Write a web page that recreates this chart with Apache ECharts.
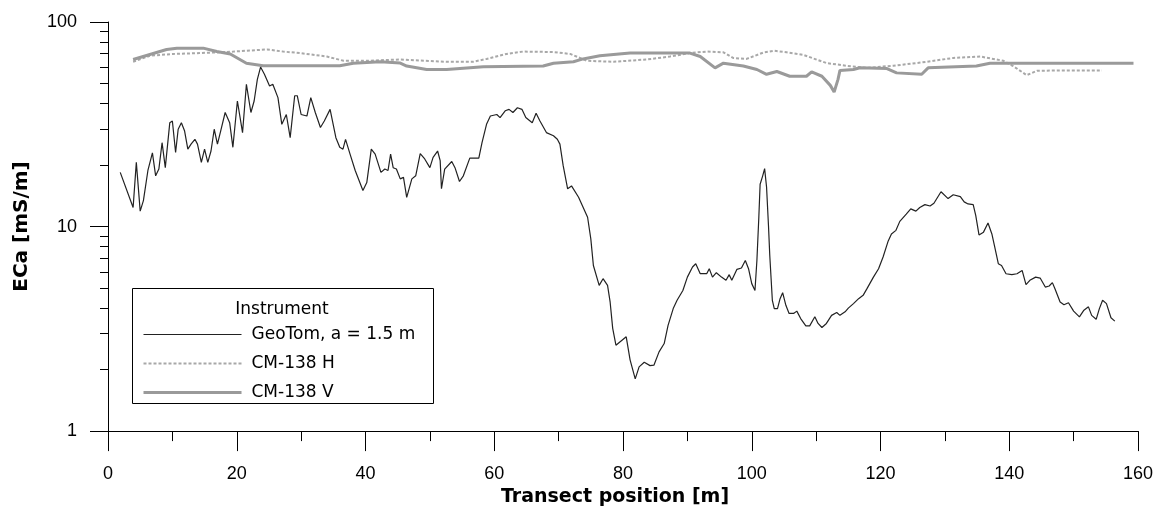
<!DOCTYPE html>
<html>
<head>
<meta charset="utf-8">
<script src="https://cdn.jsdelivr.net/npm/echarts@6/dist/echarts.min.js"></script>
<style>
  html, body { margin: 0; padding: 0; background: #fff; }
  #main { width: 1161px; height: 512px; }
</style>
</head>
<body>
<div id="main"></div>
<script>
// ECa along the transect, [position m, ECa mS/m]
var geoTom = [
  [1.9, 18.4], [3.9, 12.4], [4.4, 20.6], [5.0, 11.9], [5.5, 13.4], [6.2, 18.8], [6.9, 22.9],
  [7.4, 17.7], [7.9, 19.1], [8.4, 25.7], [8.9, 19.4], [9.6, 32.2], [10.0, 32.8], [10.5, 23.0],
  [10.9, 29.9], [11.4, 32.2], [11.9, 29.3], [12.4, 23.9], [12.9, 25.3], [13.5, 26.7], [13.9, 25.3],
  [14.5, 20.6], [15.0, 23.9], [15.5, 20.6], [16.0, 23.4], [16.5, 29.9], [17.0, 25.3], [17.5, 29.3],
  [18.2, 36.1], [18.9, 32.2], [19.4, 24.4], [20.1, 41.1], [20.9, 28.8], [21.5, 49.6], [22.2, 36.1],
  [22.7, 41.1], [23.2, 52.4], [23.7, 60.2], [24.3, 55.5], [25.1, 48.7], [25.6, 49.6], [26.4, 42.7],
  [27.0, 31.6], [27.7, 35.3], [28.3, 27.2], [29.0, 43.6], [29.4, 43.6], [30.0, 35.3], [30.9, 34.7],
  [31.5, 42.7], [32.2, 36.1], [33.0, 30.5], [33.6, 32.8], [34.5, 37.4], [35.4, 27.2], [36.0, 24.4],
  [36.5, 23.9], [36.9, 26.7], [37.6, 22.6], [38.4, 18.8], [39.6, 15.0], [40.2, 16.4], [40.9, 23.9],
  [41.5, 22.6], [42.4, 18.4], [43.0, 19.1], [43.5, 18.8], [43.9, 22.6], [44.3, 19.4], [44.8, 19.1],
  [45.4, 17.1], [45.9, 17.4], [46.4, 13.9], [47.2, 17.1], [47.8, 17.7], [48.5, 22.7], [49.2, 21.4],
  [50.0, 19.4], [50.5, 21.8], [51.2, 23.4], [51.6, 21.0], [51.8, 15.3], [52.3, 19.1], [53.4, 20.8],
  [53.9, 19.4], [54.6, 16.6], [55.2, 17.7], [56.2, 21.6], [57.6, 21.6], [58.1, 25.7], [58.8, 31.6],
  [59.4, 34.7], [60.4, 35.3], [60.9, 34.1], [61.7, 36.8], [62.3, 37.4], [62.9, 36.1], [63.6, 38.1],
  [64.3, 37.4], [64.9, 34.1], [65.9, 32.2], [66.5, 35.8], [67.1, 32.8], [68.1, 28.8], [69.2, 27.8],
  [69.8, 26.7], [70.2, 25.3], [70.7, 19.9], [71.4, 15.3], [72.0, 15.8], [73.1, 13.9], [74.5, 11.1],
  [75.0, 8.71], [75.4, 6.45], [76.3, 5.16], [76.9, 5.56], [77.6, 5.16], [78.0, 4.28], [78.4, 3.18],
  [78.9, 2.63], [80.5, 2.89], [81.1, 2.23], [81.9, 1.80], [82.5, 2.06], [83.3, 2.17], [84.2, 2.09],
  [84.8, 2.10], [85.6, 2.44], [86.4, 2.68], [87.0, 3.29], [87.8, 3.97], [88.4, 4.36], [89.3, 4.87],
  [90.0, 5.66], [90.8, 6.34], [91.3, 6.58], [92.0, 5.88], [93.0, 5.88], [93.4, 6.22], [93.9, 5.66],
  [94.5, 5.95], [95.3, 5.66], [96.0, 5.46], [96.5, 5.82], [96.9, 5.46], [97.7, 6.18], [98.4, 6.27],
  [99.0, 6.83], [99.5, 6.22], [100.0, 5.26], [100.5, 4.87], [100.8, 6.83], [101.1, 11.1], [101.3, 16.1],
  [101.7, 17.7], [102.0, 19.2], [102.3, 15.6], [102.6, 10.1], [102.8, 7.22], [103.2, 4.36], [103.5, 3.97],
  [104.0, 3.97], [104.4, 4.44], [104.8, 4.75], [105.3, 4.12], [105.8, 3.76], [106.5, 3.76], [107.0, 3.86],
  [107.6, 3.55], [108.4, 3.27], [109.0, 3.27], [109.8, 3.62], [110.3, 3.36], [110.9, 3.21], [111.6, 3.36],
  [112.4, 3.68], [113.2, 3.80], [113.7, 3.68], [114.5, 3.83], [115.0, 3.99], [115.8, 4.20], [116.6, 4.44],
  [117.3, 4.61], [117.9, 4.97], [118.9, 5.66], [119.7, 6.22], [120.4, 7.10], [121.2, 8.51], [121.7, 9.20],
  [122.4, 9.58], [123.0, 10.6], [124.0, 11.5], [124.7, 12.2], [125.5, 11.9], [126.1, 12.4], [126.9, 12.8],
  [127.7, 12.6], [128.3, 13.0], [129.4, 14.8], [130.5, 13.7], [131.3, 14.3], [132.4, 14.0], [133.0, 13.2],
  [133.6, 12.9], [134.4, 12.8], [134.8, 11.3], [135.3, 9.10], [136.0, 9.39], [136.7, 10.4], [137.3, 9.20],
  [137.8, 7.79], [138.3, 6.58], [138.8, 6.45], [139.5, 5.88], [140.4, 5.82], [141.2, 5.88], [142.0, 6.10],
  [142.6, 5.20], [143.2, 5.46], [144.1, 5.66], [144.8, 5.60], [145.6, 5.06], [146.2, 5.12], [146.7, 5.32],
  [147.1, 4.97], [147.9, 4.28], [148.5, 4.15], [149.2, 4.24], [150.0, 3.86], [150.9, 3.62], [151.6, 3.90],
  [152.3, 4.05], [152.8, 3.68], [153.5, 3.52], [154.0, 3.97], [154.5, 4.36], [155.1, 4.20], [155.8, 3.58],
  [156.4, 3.45]
];

var cmH = [
  [3.9, 63.9], [6.5, 68.4], [10.1, 69.8], [14.3, 70.5], [16.4, 70.9], [19.5, 71.7], [24.7, 73.4],
  [27.2, 71.7], [29.8, 70.5], [34.0, 67.8], [36.6, 64.6], [40.2, 64.6], [45.4, 65.6], [52.6, 63.9],
  [56.7, 63.9], [58.8, 66.0], [61.9, 69.8], [64.5, 71.7], [69.2, 71.3], [71.8, 69.8], [74.4, 64.6],
  [78.5, 63.9], [83.7, 65.6], [87.3, 67.8], [90.4, 70.5], [93.0, 71.7], [95.6, 71.1], [97.1, 66.7],
  [99.2, 66.0], [101.8, 70.9], [103.5, 72.3], [105.4, 71.1], [108.0, 69.1], [111.6, 63.0], [114.7, 61.1],
  [117.9, 59.7], [122.0, 61.1], [127.2, 63.9], [131.3, 66.7], [135.5, 67.8], [139.1, 64.6], [140.6, 60.9],
  [142.7, 55.0], [144.3, 57.7], [147.9, 58.0], [154.4, 58.0]
];

var cmV = [
  [3.9, 65.6], [9.1, 73.4], [10.7, 74.5], [14.8, 74.5], [16.9, 71.7], [19.0, 69.8], [21.5, 62.9],
  [24.1, 61.1], [36.0, 61.1], [38.1, 62.9], [42.3, 63.9], [45.4, 63.0], [46.4, 60.9], [49.5, 58.6],
  [52.6, 58.6], [58.3, 60.4], [67.6, 60.9], [69.2, 62.9], [72.3, 63.9], [73.8, 66.0], [76.4, 68.4],
  [81.1, 70.5], [90.4, 70.5], [92.0, 67.8], [94.3, 59.7], [95.6, 62.9], [98.7, 60.9], [100.8, 58.6],
  [102.3, 55.5], [103.9, 57.3], [105.9, 54.3], [108.5, 54.3], [109.3, 57.0], [110.9, 54.3], [112.2, 49.0],
  [112.8, 45.5], [113.4, 52.4], [113.7, 58.0], [115.8, 58.6], [116.8, 59.7], [121.0, 59.2], [122.5, 56.4],
  [126.4, 55.5], [127.4, 59.7], [134.9, 60.9], [137.0, 62.9], [159.3, 62.9]
];

var seriesNames = ['GeoTom, a = 1.5 m', 'CM-138 H', 'CM-138 V'];

// log-axis minor tick positions (2..9 of each decade)
var yMinorTicks = [2, 3, 4, 5, 6, 7, 8, 9, 20, 30, 40, 50, 60, 70, 80, 90];

var myChart = echarts.init(document.getElementById('main'));

var axisFont = { fontFamily: 'Liberation Sans', fontSize: 18, color: '#000' };
var nameFont = { fontFamily: 'DejaVu Sans', fontWeight: 'bold', fontSize: 19, color: '#000' };

var option = {
  animation: false,
  backgroundColor: '#fff',
  grid: {
    left: 108,
    right: 23,
    top: 22,
    bottom: 79,
    containLabel: false
  },
  legend: {
    data: [
      { name: seriesNames[0], lineStyle: { width: 1.2 } },
      { name: seriesNames[1], lineStyle: { width: 2 } },
      { name: seriesNames[2], lineStyle: { width: 3 } }
    ],
    orient: 'vertical',
    left: 142,
    top: 326,
    padding: 0,
    itemWidth: 98,
    itemHeight: 14,
    itemGap: 12,
    z: 10,
    itemStyle: { opacity: 0 },
    textStyle: {
      fontFamily: 'DejaVu Sans',
      fontSize: 17,
      color: '#000',
      padding: [0, 0, 0, 5]
    }
  },
  graphic: [
    {
      type: 'rect',
      z: 1,
      shape: { x: 132.5, y: 288.5, width: 301, height: 115 },
      style: { fill: '#fff', stroke: '#000', lineWidth: 1 }
    },
    {
      type: 'text',
      z: 2,
      x: 282,
      y: 310,
      style: {
        text: 'Instrument',
        fontFamily: 'DejaVu Sans',
        fontSize: 17,
        fill: '#000',
        align: 'center',
        verticalAlign: 'middle'
      }
    }
  ],
  xAxis: {
    type: 'value',
    min: 0,
    max: 160,
    interval: 20,
    name: 'Transect position [m]',
    nameLocation: 'middle',
    nameGap: 55,
    nameTextStyle: Object.assign({}, nameFont, { padding: [0, 16, 0, 0] }),
    axisLine: { onZero: false, lineStyle: { color: '#000', width: 1 } },
    axisTick: { length: 20, lineStyle: { color: '#000' } },
    minorTick: { show: true, splitNumber: 2, length: 10, lineStyle: { color: '#000' } },
    axisLabel: Object.assign({ margin: 34 }, axisFont),
    splitLine: { show: false }
  },
  yAxis: [
    {
      type: 'log',
      logBase: 10,
      min: 1,
      max: 100,
      name: 'ECa [mS/m]',
      nameLocation: 'middle',
      nameGap: 76,
      nameTextStyle: Object.assign({}, nameFont, { fontSize: 20 }),
      axisLine: { show: true, lineStyle: { color: '#000', width: 1 } },
      axisTick: { show: true, length: 18, lineStyle: { color: '#000' } },
      axisLabel: Object.assign({ margin: 31 }, axisFont),
      splitLine: { show: false }
    },
    {
      // second log axis only carries the 2..9 minor ticks
      type: 'log',
      logBase: 10,
      min: 1,
      max: 100,
      position: 'left',
      offset: 0,
      axisLine: { show: false },
      axisLabel: { show: false },
      axisTick: { show: true, length: 8, customValues: yMinorTicks, lineStyle: { color: '#000', width: 1 } },
      splitLine: { show: false }
    }
  ],
  series: [
    {
      name: seriesNames[0],
      type: 'line',
      data: geoTom,
      symbol: 'none',
      z: 3,
      lineStyle: { color: '#222', width: 1.2 },
      itemStyle: { color: '#222' }
    },
    {
      name: seriesNames[1],
      type: 'line',
      data: cmH,
      symbol: 'none',
      z: 2,
      lineStyle: { color: '#a8a8a8', width: 2, type: [3, 2] },
      itemStyle: { color: '#a8a8a8' }
    },
    {
      name: seriesNames[2],
      type: 'line',
      data: cmV,
      symbol: 'none',
      z: 2,
      lineStyle: { color: '#9a9a9a', width: 3 },
      itemStyle: { color: '#9a9a9a' }
    }
  ]
};

myChart.setOption(option);
</script>
</body>
</html>
